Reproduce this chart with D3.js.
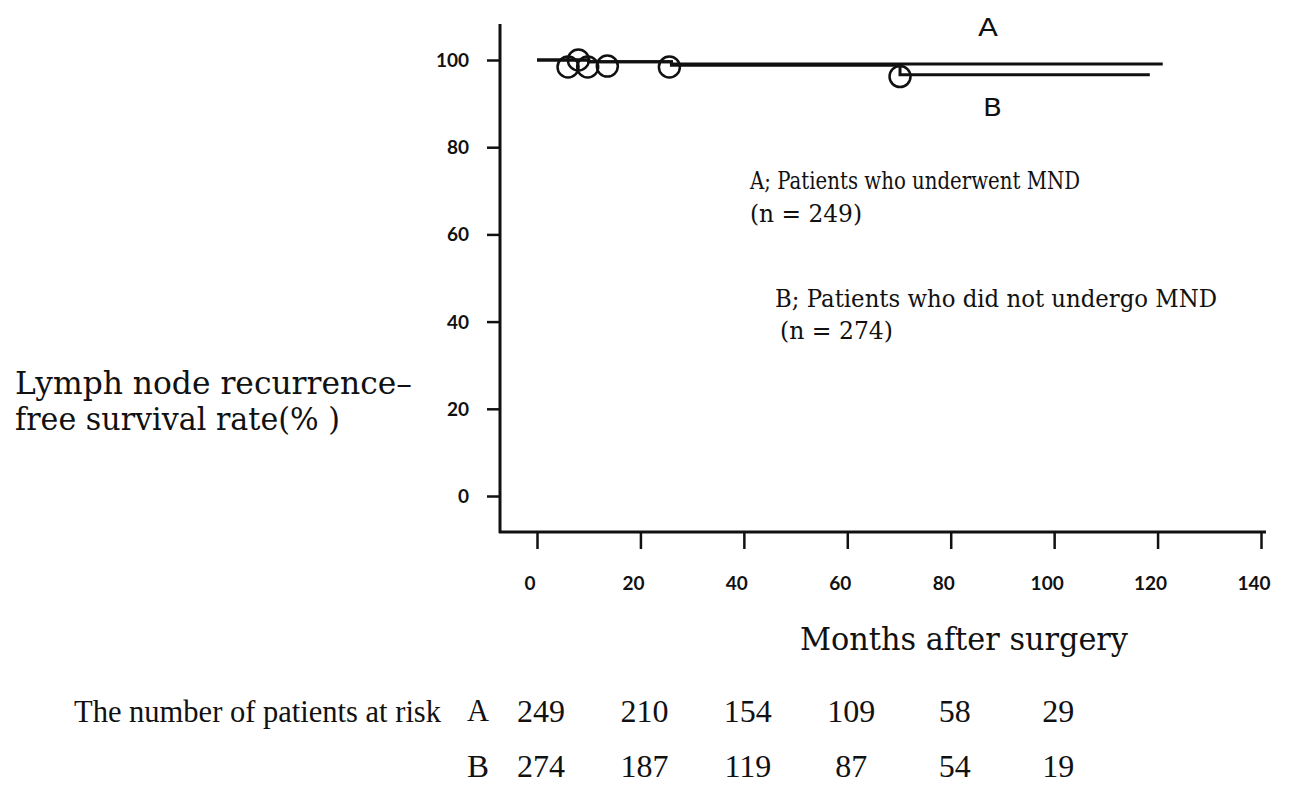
<!DOCTYPE html>
<html><head><meta charset="utf-8">
<script src="https://cdn.jsdelivr.net/npm/d3@7"></script>
<style>html,body{margin:0;padding:0;background:#fff;}svg{display:block;}</style>
</head><body>
<svg id="c" width="1296" height="794"></svg>
<script>
// ---- data ----
const xTicks = [0, 20, 40, 60, 80, 100, 120, 140];
const yTicks = [0, 20, 40, 60, 80, 100];
const groupA_times = [0, 10, 26];
const groupA_rates = [100, 99.6, 99.1];
const groupA_end = 121;
const groupB_times = [0, 10, 26, 70.2];
const groupB_rates = [100, 99.6, 98.8, 96.6];
const groupB_end = 118.5;
const censorMonths = [6, 8, 9.8, 13.6, 25.6, 70.2];
const censorRates = [98.4, 100, 98.4, 98.6, 98.4, 96.2];
const riskMonths = [0, 20, 40, 60, 80, 100];
const riskA = [249, 210, 154, 109, 58, 29];
const riskB = [274, 187, 119, 87, 54, 19];

const svg = d3.select("#c");
const x = d3.scaleLinear().domain([0, 140]).range([537, 1261]);
const y = d3.scaleLinear().domain([0, 100]).range([496, 60]);
const ink = "#111";

// frame
svg.append("line").attr("x1", 500).attr("x2", 500).attr("y1", 24).attr("y2", 533)
  .attr("stroke", ink).attr("stroke-width", 3);
svg.append("line").attr("x1", 499).attr("x2", 1266).attr("y1", 532).attr("y2", 532)
  .attr("stroke", ink).attr("stroke-width", 3);

// x axis ticks
const gx = svg.append("g").attr("transform", "translate(0,532)");
gx.call(d3.axisBottom(x).tickValues(d3.range(0, 141, 10).filter(v => v % 20 !== 0)).tickSize(11).tickFormat(""));
gx.call(d3.axisBottom(x).tickValues(xTicks).tickSize(17).tickFormat(""));
gx.selectAll(".domain").remove();
gx.selectAll("line").attr("stroke", ink).attr("stroke-width", 2.5);
svg.append("g").selectAll("text").data(xTicks).join("text")
  .attr("x", d => x(d) - 7).attr("y", 590).attr("text-anchor", "middle")
  .attr("font-family", "Lato, 'DejaVu Sans', sans-serif").attr("font-weight", "bold")
  .attr("font-size", 19).attr("fill", ink).text(d => d);

// y axis ticks
const gy = svg.append("g").attr("transform", "translate(500,0)");
gy.call(d3.axisLeft(y).tickValues(d3.range(10, 101, 20)).tickSize(7).tickFormat(""));
gy.call(d3.axisLeft(y).tickValues(yTicks).tickSize(13).tickFormat(""));
gy.selectAll(".domain").remove();
gy.selectAll("line").attr("stroke", ink).attr("stroke-width", 2.5);
svg.append("g").selectAll("text").data(yTicks).join("text")
  .attr("x", 469).attr("y", d => y(d) + 7).attr("text-anchor", "end")
  .attr("font-family", "Lato, 'DejaVu Sans', sans-serif").attr("font-weight", "bold")
  .attr("font-size", 19).attr("fill", ink).text(d => d);

// survival curves
const line = d3.line().x(d => x(d[0])).y(d => y(d[1])).curve(d3.curveStepAfter);
function pts(times, rates, end) {
  const p = times.map((t, i) => [t, rates[i]]);
  p.push([end, rates[rates.length - 1]]);
  return p;
}
svg.append("path").attr("d", line(pts(groupB_times, groupB_rates, groupB_end)))
  .attr("fill", "none").attr("stroke", ink).attr("stroke-width", 3);
svg.append("path").attr("d", line(pts(groupA_times, groupA_rates, groupA_end)))
  .attr("fill", "none").attr("stroke", ink).attr("stroke-width", 3);

// censor marks
svg.append("g").selectAll("circle").data(censorMonths).join("circle")
  .attr("cx", d => x(d)).attr("cy", (d, i) => y(censorRates[i])).attr("r", 10.5)
  .attr("fill", "none").attr("stroke", ink).attr("stroke-width", 2.5);

// annotations
const serif = "'DejaVu Serif', 'Liberation Serif', serif";
function txt(s, xx, yy, size, len, fam) {
  const t = svg.append("text").attr("x", xx).attr("y", yy).attr("font-family", fam || serif)
    .attr("font-size", size).attr("fill", ink).text(s);
  if (len) t.attr("textLength", len).attr("lengthAdjust", "spacingAndGlyphs");
  return t;
}
txt("A", 978, 36, 24, 20, "'DejaVu Sans', sans-serif");
txt("B", 983, 116, 24, 19, "'DejaVu Sans', sans-serif");
txt("A; Patients who underwent MND", 750, 189, 25, 330);
txt("(n = 249)", 750, 222, 25, 112);
txt("B; Patients who did not undergo MND", 775, 307, 25, 442);
txt("(n = 274)", 780, 339, 25, 113);

txt("Lymph node recurrence\u2013", 15, 394, 31, 397);
txt("free survival rate(% )", 15, 430, 31, 325);
txt("Months after surgery", 800, 650, 31, 328);

const cond = "'Liberation Serif', serif";
txt("The number of patients at risk", 74, 722, 32, 367, cond);
txt("A", 467, 721, 32, 22, cond);
txt("B", 467, 777, 32, 22, cond);
svg.append("g").selectAll("text").data(riskA).join("text")
  .attr("x", (d, i) => x(riskMonths[i]) + 4).attr("y", 722).attr("text-anchor", "middle")
  .attr("font-family", cond).attr("font-size", 32).attr("fill", ink).text(d => d);
svg.append("g").selectAll("text").data(riskB).join("text")
  .attr("x", (d, i) => x(riskMonths[i]) + 4).attr("y", 777).attr("text-anchor", "middle")
  .attr("font-family", cond).attr("font-size", 32).attr("fill", ink).text(d => d);
</script>
</body></html>
